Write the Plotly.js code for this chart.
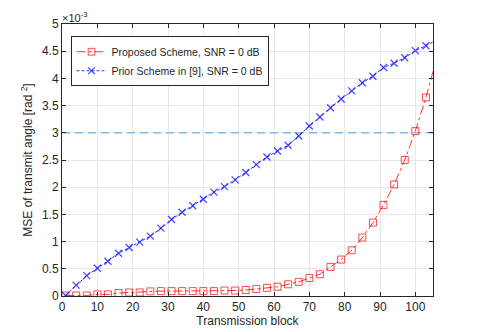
<!DOCTYPE html>
<html>
<head>
<meta charset="utf-8">
<script src="https://cdn.plot.ly/plotly-3.0.1.min.js"></script>
<style>html,body{margin:0;padding:0;background:#fff;}#chart{width:479px;height:332px;}</style>
</head>
<body>
<div id="chart"></div>
<script>
// Transmission block indices (markers every 3 blocks; the last one lies just past the axis end)
var blocks = [1,4,7,10,13,16,19,22,25,28,31,34,37,40,43,46,49,52,55,58,61,64,67,70,73,76,79,82,85,88,91,94,97,100,103,106];
// MSE values in units of 1e-3 rad^2
var proposedMSE = [0.01,0.01,0.01,0.03,0.03,0.055,0.065,0.065,0.085,0.09,0.09,0.09,0.09,0.09,0.09,0.1,0.1,0.11,0.13,0.15,0.17,0.215,0.26,0.33,0.40,0.535,0.67,0.84,1.075,1.35,1.675,2.05,2.50,3.03,3.65,4.36];
var priorMSE = [0.01,0.2,0.375,0.51,0.64,0.786,0.89,0.99,1.1,1.247,1.406,1.54,1.66,1.78,1.91,2.01,2.135,2.27,2.415,2.555,2.665,2.77,2.94,3.125,3.29,3.46,3.62,3.77,3.92,4.04,4.20,4.28,4.38,4.51,4.60,4.70];
var thresholdX = [0,105];
var thresholdY = [3,3];
var seriesNames = ['Proposed Scheme, SNR = 0 dB','Prior Scheme in [9], SNR = 0 dB'];
var xTicks = [0,10,20,30,40,50,60,70,80,90,100];
var yTicks = [0,0.5,1,1.5,2,2.5,3,3.5,4,4.5,5];
var yTickText = ['0','0.5','1','1.5','2','2.5','3','3.5','4','4.5','5'];

var axisColor = 'rgb(38,38,38)';
var fam = 'Liberation Sans, Arial, sans-serif';
// hide the marker of the point beyond the axis end (line still runs to the edge)
var markerSizes = blocks.map(function(b){ return b > 105 ? 0 : 7; });

var traces = [
  {x:thresholdX, y:thresholdY, mode:'lines', showlegend:false, hoverinfo:'skip',
   line:{color:'rgb(125,188,230)', width:1.6, dash:'8px,5px'}},
  {x:blocks, y:proposedMSE, name:seriesNames[0], mode:'lines+markers',
   line:{color:'rgb(255,0,0)', width:0.8, dash:'dashdot'},
   marker:{symbol:'square-open', size:markerSizes, color:'rgb(255,0,0)', line:{width:1}}},
  {x:blocks, y:priorMSE, name:seriesNames[1], mode:'lines+markers',
   line:{color:'rgb(0,0,255)', width:0.8, dash:'3px,2px'},
   marker:{symbol:'x-thin', size:markerSizes, color:'rgb(0,0,255)', line:{width:1.3, color:'rgb(0,0,255)'}}}
];

var layout = {
  width:479, height:332,
  margin:{l:62, r:46, t:24, b:36},
  paper_bgcolor:'#fff', plot_bgcolor:'#fff',
  font:{family:fam, size:12, color:axisColor},
  showlegend:true,
  legend:{x:0.023, y:0.955, xanchor:'left', yanchor:'top', bgcolor:'#fff',
          bordercolor:axisColor, borderwidth:1, font:{family:fam, size:10.5, color:axisColor},
          itemwidth:30, tracegroupgap:0},
  xaxis:{range:[0,105], tickvals:xTicks, ticks:'inside', ticklen:4, tickcolor:axisColor,
         showline:true, linecolor:axisColor, linewidth:1, mirror:'ticks',
         showgrid:true, gridcolor:'rgb(232,232,232)', zeroline:false,
         tickfont:{size:12, color:axisColor},
         title:{text:'Transmission block', font:{size:12, color:axisColor}, standoff:2}},
  yaxis:{range:[0,5], tickvals:yTicks, ticktext:yTickText, ticks:'inside', ticklen:4, tickcolor:axisColor,
         showline:true, linecolor:axisColor, linewidth:1, mirror:'ticks',
         showgrid:true, gridcolor:'rgb(232,232,232)', zeroline:false,
         tickfont:{size:12, color:axisColor},
         title:{text:'MSE of transmit angle [rad <sup>2</sup>]', font:{size:12, color:axisColor}, standoff:6}},
  annotations:[{xref:'paper', yref:'paper', x:0, y:1, xanchor:'left', yanchor:'bottom',
    text:'\u00d710<sup>-3</sup>', showarrow:false, font:{family:fam, size:11, color:axisColor}, xshift:-2, yshift:-2}]
};

Plotly.newPlot('chart', traces, layout, {displayModeBar:false, staticPlot:true});
</script>
</body>
</html>
